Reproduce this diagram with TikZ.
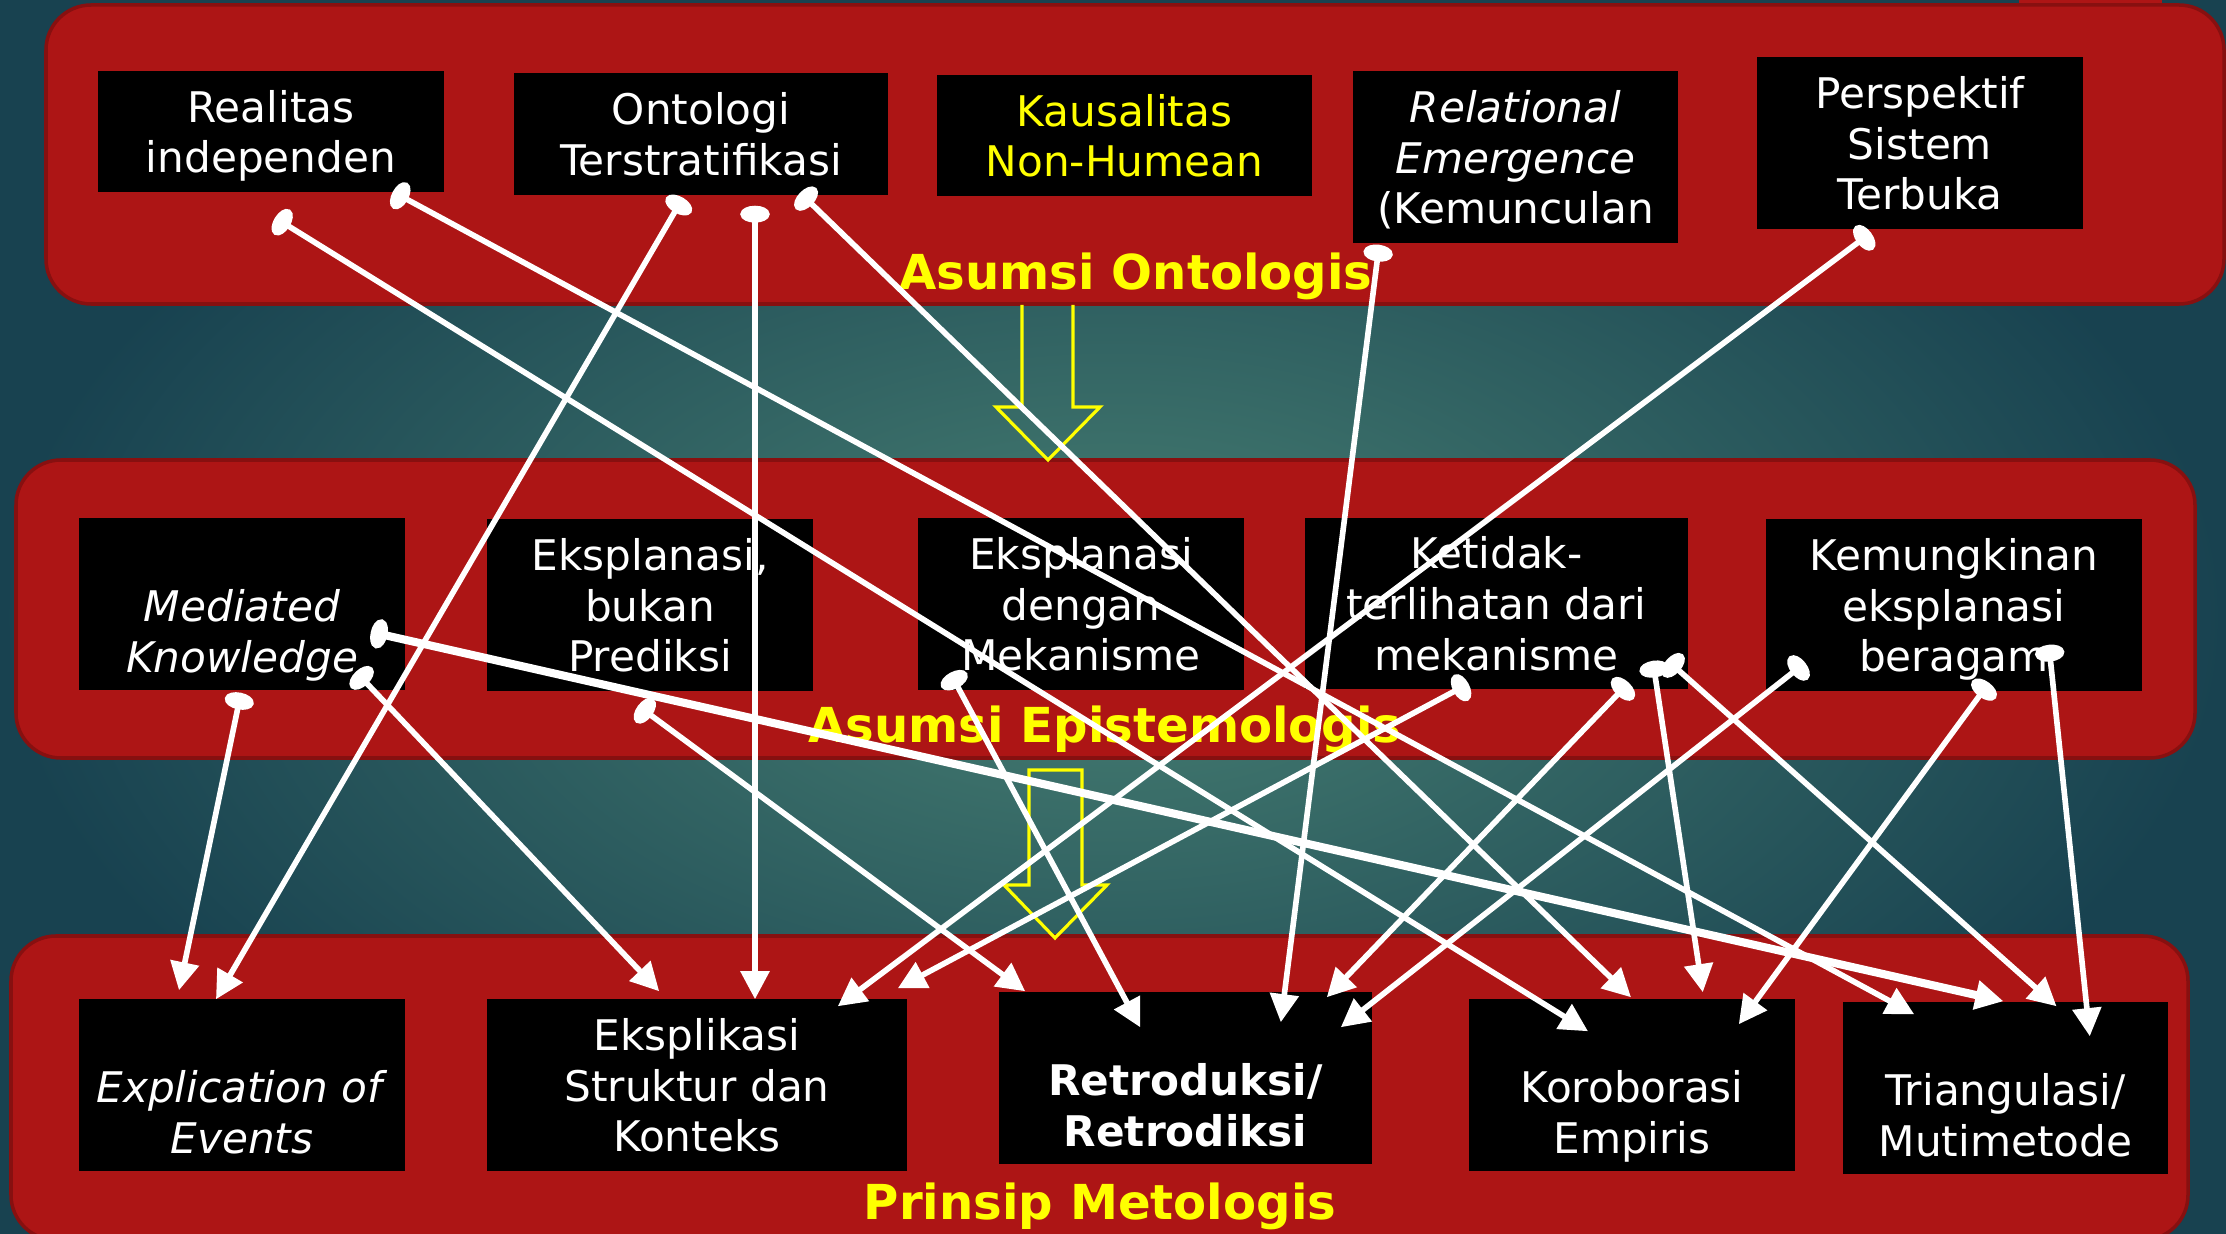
\documentclass[tikz,border=0pt]{standalone}
\usepackage{fontspec}
\setmainfont{DejaVu Sans}
\usetikzlibrary{arrows.meta, calc}

\definecolor{bandred}{RGB}{173,21,21}
\definecolor{bandedge}{RGB}{135,16,16}
\definecolor{bgmid}{RGB}{72,128,115}
\definecolor{bgout}{RGB}{24,66,80}
\definecolor{labelyellow}{RGB}{255,255,0}

\begin{document}
\begin{tikzpicture}[x=0.01cm, y=-0.01cm,
  main node/.style={rectangle, fill=black, text=white, inner sep=0pt, align=center,
    text depth=0pt, font=\fontsize{12}{14.4}\selectfont},
  band/.style={fill=bandred, draw=bandedge, line width=1pt, rounded corners=12.8pt},
  band label/.style={anchor=base, text=labelyellow, font=\fontsize{13.7}{16}\selectfont\bfseries},
  hollow/.style={draw=labelyellow, line width=0.9pt},
  link/.style={white, line width=1.6pt,
    {Ellipse[length=4.8pt,width=8.3pt,fill=white]}-{Triangle[length=8pt,width=8pt,fill=white]}}]

  \useasboundingbox (0,0) rectangle (2226,1234);
  \clip (0,0) rectangle (2226,1234);
  \shade[inner color=bgmid, outer color=bgout] (0,0) rectangle (2226,1234);

  \fill[bandred] (2019,0) rectangle (2162,8);
  \draw[band] (46,5) rectangle (2224,304);
  \draw[band] (16,460) rectangle (2195,758);
  \draw[band] (11,936) rectangle (2188,1240);

  \node[main node, minimum width=3.46cm, minimum height=1.21cm] (1) at (271,131.5) {Realitas\\independen};
  \node[main node, minimum width=3.74cm, minimum height=1.22cm] (2) at (701,134) {Ontologi\\Terstratifikasi};
  \node[main node, text=labelyellow, minimum width=3.75cm, minimum height=1.21cm] (3) at (1124.5,135.5) {Kausalitas\\Non-Humean};
  \node[main node, minimum width=3.25cm, minimum height=1.72cm] (4) at (1515.5,157) {\textit{Relational}\\\textit{Emergence}\\(Kemunculan};
  \node[main node, minimum width=3.26cm, minimum height=1.72cm] (5) at (1920,143) {Perspektif\\Sistem\\Terbuka};

  \node[main node, minimum width=3.26cm, minimum height=1.72cm] (6) at (242,604) {\strut\\\textit{Mediated}\\\textit{Knowledge}};
  \node[main node, minimum width=3.26cm, minimum height=1.72cm] (7) at (650,605) {Eksplanasi,\\bukan\\Prediksi};
  \node[main node, minimum width=3.26cm, minimum height=1.72cm] (8) at (1081,604) {Eksplanasi\\dengan\\Mekanisme};
  \node[main node, minimum width=3.83cm, minimum height=1.71cm] (9) at (1496.5,603.5) {Ketidak-\\terlihatan dari\\mekanisme};
  \node[main node, minimum width=3.76cm, minimum height=1.72cm] (10) at (1954,605) {Kemungkinan\\eksplanasi\\beragam};

  \node[main node, minimum width=3.26cm, minimum height=1.72cm] (11) at (242,1085) {\strut\\\textit{Explication of}\\\textit{Events}};
  \node[main node, minimum width=4.20cm, minimum height=1.72cm] (12) at (697,1085) {Eksplikasi\\Struktur dan\\Konteks};
  \node[main node, minimum width=3.73cm, minimum height=1.72cm] (13) at (1185.5,1078) {\strut\\\textbf{Retroduksi/}\\\textbf{Retrodiksi}};
  \node[main node, minimum width=3.26cm, minimum height=1.72cm] (14) at (1632,1085) {\strut\\Koroborasi\\Empiris};
  \node[main node, minimum width=3.25cm, minimum height=1.72cm] (15) at (2005.5,1088) {\strut\\Triangulasi/\\Mutimetode};

  \node[band label] (16) at (1136,290) {Asumsi Ontologis};
  \node[band label] (17) at (1105,743) {Asumsi Epistemologis};
  \node[band label] (18) at (1100,1220) {Prinsip Metologis};

  \draw[hollow] (1022,305) -- (1022,407) -- (996,407) -- (1048,460) -- (1100,407) -- (1073,407) -- (1073,305);
  \draw[hollow] (1029,770) -- (1082,770) -- (1082,885) -- (1107,885) -- (1055,938) -- (1004,885) -- (1029,885) -- cycle;

  \path[link]
    ($(1.south)+(4,25)$) edge ($(14.north)+(-44,33)$)
    ($(1.south east)+(-52,-1)$) edge ($(15.north west)+(72,13)$)
    ($(2.south)+(-18,2)$) edge ($(11.north)+(-26,1)$)
    ($(2.south)+(54,10)$) edge ($(12.north)+(58,1)$)
    ($(2.south)+(99,-3)$) edge ($(14.north)+(-1,-1)$)
    ($(4.south west)+(27,1)$) edge ($(13.north east)+(-92,31)$)
    ($(5.south)+(-49,3)$) edge ($(12.north east)+(-70,8)$)
    ($(6.south)+(-1,2)$) edge ($(11.north)+(-63,-8)$)
    ($(6.east)+(-35,28)$) edge[line width=2.3pt] ($(15.north)+(-2,0)$)
    ($(6.south east)+(-50,-19)$) edge ($(12.north west)+(173,-7)$)
    ($(7.south)+(-12,14)$) edge ($(13.north west)+(27,0)$)
    ($(8.south west)+(33,-18)$) edge ($(13.north west)+(142,36)$)
    ($(9.south)+(-28,-6)$) edge ($(12.north east)+(-10,-10)$)
    ($(9.south east)+(-60,-7)$) edge ($(13.north east)+(-46,6)$)
    ($(9.south east)+(-36,-29)$) edge ($(14.north east)+(-93,-6)$)
    ($(9.south east)+(-22,-30)$) edge ($(15.north)+(51,5)$)
    ($(10.south west)+(40,-29)$) edge ($(13.north east)+(-32,36)$)
    ($(10.south)+(35,-9)$) edge ($(14.north east)+(-57,26)$)
    ($(10.south east)+(-94,-47)$) edge ($(15.north east)+(-79,35)$);
\end{tikzpicture}
\end{document}
